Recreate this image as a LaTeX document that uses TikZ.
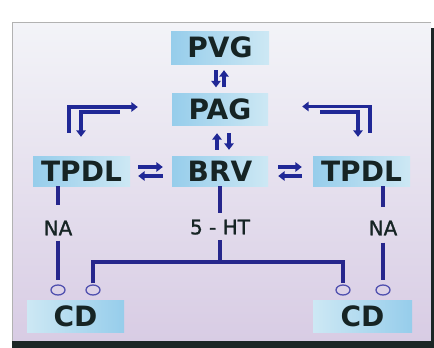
\documentclass[tikz,border=0pt]{standalone}
\usepackage{fontspec}
\setmainfont{DejaVu Sans}
\newfontfamily\rotfont[FakeBold=1.3]{DejaVu Sans}
\usepackage{tikz}
\usetikzlibrary{arrows.meta,shapes.geometric}
\definecolor{azul}{RGB}{32,40,150}
\definecolor{azullinha}{RGB}{38,38,140}
\definecolor{azulcirc}{RGB}{80,80,175}
\definecolor{texto}{RGB}{22,36,36}
\definecolor{caixaA}{RGB}{150,205,235}
\definecolor{caixaB}{RGB}{205,232,244}
\definecolor{fundoA}{RGB}{243,244,248}
\definecolor{fundoB}{RGB}{216,204,228}
\definecolor{sombra}{RGB}{28,38,38}

\begin{document}
\begin{tikzpicture}[x=1pt,y=-1pt,
  caixa/.style={left color=caixaA,right color=caixaB,inner sep=0pt,text=texto,
    font=\bfseries\fontsize{28}{30}\selectfont,text height=20.4pt,text depth=0pt},
  rotulo/.style={inner sep=0pt,text=texto,font=\rotfont\fontsize{20}{22}\selectfont,
    text height=14.6pt,text depth=0pt},
  seta/.style={draw=azul,line width=3.3pt,-{Triangle[length=6.5pt,width=9.5pt]}},
  linha/.style={draw=azullinha,line width=3.3pt},
  bolinha/.style={ellipse,draw=azulcirc,line width=1.3pt,minimum width=14pt,
    minimum height=10pt,inner sep=0pt}]
\useasboundingbox (0,0) rectangle (434,348);
% Fundo
\fill[white] (0,0) rectangle (434,348);
\shade[top color=fundoA,bottom color=fundoB] (12,22) rectangle (431,341);
\draw[gray!60,line width=0.6pt] (12,341) -- (12,22) -- (431,22);
\fill[sombra] (12,341) rectangle (434,348);
\fill[sombra] (431,28) rectangle (434,348);
% Caixas
\node[caixa,minimum width=98pt,minimum height=33pt] (pvg) at (220,47.5) {PVG};
\node[caixa,minimum width=96pt,minimum height=32pt] (pag) at (220,109.5) {PAG};
\node[caixa,minimum width=96pt,minimum height=30pt] (brv) at (220,171) {BRV};
\node[caixa,minimum width=97pt,minimum height=30pt] (tpdlL) at (81.5,171) {TPDL};
\node[caixa,minimum width=97pt,minimum height=30pt] (tpdlR) at (361.5,171) {TPDL};
\node[caixa,left color=caixaB,right color=caixaA,minimum width=97pt,minimum height=32pt] (cdL) at (75.5,316) {CD};
\node[caixa,left color=caixaB,right color=caixaA,minimum width=99pt,minimum height=32pt] (cdR) at (362.5,316) {CD};
% Rotulos e terminais
\node[rotulo] (naL) at (58,228) {NA};
\node[rotulo] (naR) at (383,228) {NA};
\node[rotulo] (ht) at (220,227) {5 - HT};
\node[bolinha] (cL1) at (58,290) {};
\node[bolinha] (cL2) at (93,290) {};
\node[bolinha] (cR1) at (343,290) {};
\node[bolinha] (cR2) at (383,290) {};
\coordinate (bus) at (220,262);
% Setas verticais
\draw[seta,shorten <=6pt,shorten >=6pt] ([xshift=-4pt]pvg.south) -- ([xshift=-4pt]pag.north);
\draw[seta,shorten <=6pt,shorten >=6pt] ([xshift=4pt]pag.north) -- ([xshift=4pt]pvg.south);
\draw[seta,shorten <=6pt,shorten >=7.5pt] ([xshift=-3pt]brv.north) -- ([xshift=-3pt]pag.south);
\draw[seta,shorten <=7.5pt,shorten >=6pt] ([xshift=9pt]pag.south) -- ([xshift=9pt]brv.north);
% Setas horizontais
\draw[seta,shorten <=8pt,shorten >=9pt] ([yshift=4pt]tpdlL.east) -- ([yshift=4pt]brv.west);
\draw[seta,shorten <=9pt,shorten >=8pt] ([yshift=-5pt]brv.west) -- ([yshift=-5pt]tpdlL.east);
\draw[seta,shorten <=10pt,shorten >=11pt] ([yshift=4pt]brv.east) -- ([yshift=4pt]tpdlR.west);
\draw[seta,shorten <=11pt,shorten >=10pt] ([yshift=-5pt]tpdlR.west) -- ([yshift=-5pt]brv.east);
% Setas em L
\draw[seta] ([xshift=-12.5pt,yshift=23pt]tpdlL.north) |- ([xshift=-34pt,yshift=2.5pt]pag.west);
\draw[seta] ([xshift=-52pt,yshift=-2.5pt]pag.west) -| ([xshift=-0.5pt,yshift=19pt]tpdlL.north);
\draw[seta] ([xshift=8.5pt,yshift=23pt]tpdlR.north) |- ([xshift=34pt,yshift=3pt]pag.east);
\draw[seta] ([xshift=52pt,yshift=-2.5pt]pag.east) -| ([xshift=-3.5pt,yshift=19pt]tpdlR.north);
% Ligacoes
\draw[linha,shorten >=16pt] (tpdlL.south -| naL) -- (naL);
\draw[linha,shorten <=5pt,shorten >=4pt] (naL) -- (cL1);
\draw[linha,shorten >=14pt] (tpdlR.south -| naR) -- (naR);
\draw[linha,shorten <=7pt,shorten >=4pt] (naR) -- (cR2);
\draw[linha,shorten >=6.5pt] (brv) -- (ht);
\draw[linha,shorten <=5.5pt] (ht) -- (bus);
\draw[linha,shorten <=1pt,shorten >=1pt] (cL2) |- (bus) -| (cR1);
\end{tikzpicture}
\end{document}
